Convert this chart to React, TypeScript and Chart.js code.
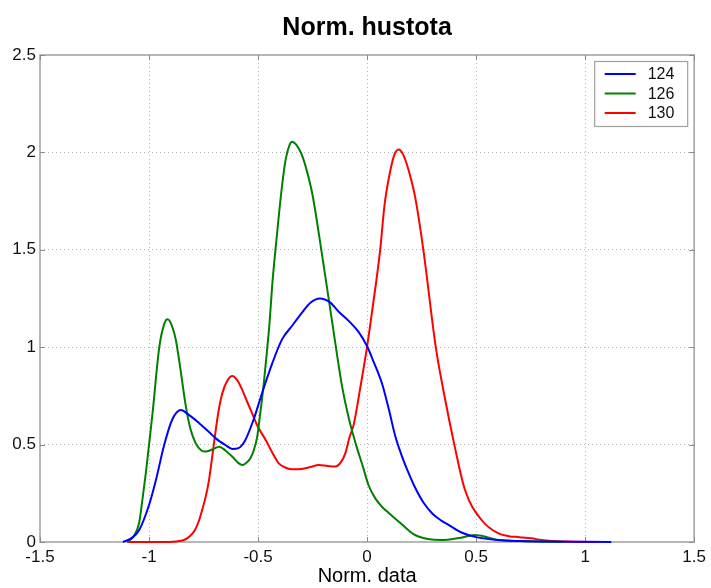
import React, { useEffect, useRef } from 'react';
import { Chart, registerables } from 'chart.js';

Chart.register(...registerables);

const titleText = 'Norm. hustota';
const xAxisLabel = 'Norm. data';
const seriesNames = ['124', '126', '130'];
const seriesColors = ['#0000ff', '#008000', '#ff0000'];

const xTicks = [-1.5, -1, -0.5, 0, 0.5, 1, 1.5];
const yTicks = [0, 0.5, 1, 1.5, 2, 2.5];

const x124 = [-1.12, -1.08, -1.045, -1.0, -0.968, -0.93, -0.893, -0.854, -0.82, -0.77, -0.72, -0.694, -0.65, -0.618, -0.59, -0.56, -0.52, -0.48, -0.435, -0.39, -0.344, -0.3, -0.26, -0.217, -0.17, -0.13, -0.08, -0.04, 0, 0.03, 0.068, 0.1, 0.13, 0.16, 0.19, 0.22, 0.26, 0.3, 0.34, 0.373, 0.43, 0.5, 0.6, 0.7, 0.85, 1.0, 1.12];
const y124 = [0, 0.02, 0.062, 0.19, 0.32, 0.5, 0.63, 0.678, 0.655, 0.61, 0.56, 0.532, 0.498, 0.478, 0.482, 0.52, 0.63, 0.77, 0.917, 1.04, 1.11, 1.175, 1.228, 1.25, 1.23, 1.182, 1.13, 1.08, 1.005, 0.925, 0.815, 0.68, 0.54, 0.44, 0.355, 0.28, 0.2, 0.145, 0.11, 0.088, 0.05, 0.025, 0.01, 0.005, 0.002, 0.001, 0];

const x126 = [-1.1, -1.07, -1.045, -1.03, -1.014, -1.0, -0.984, -0.953, -0.93, -0.915, -0.895, -0.877, -0.855, -0.831, -0.81, -0.786, -0.76, -0.74, -0.71, -0.679, -0.65, -0.618, -0.59, -0.572, -0.55, -0.535, -0.52, -0.504, -0.49, -0.475, -0.46, -0.447, -0.435, -0.414, -0.394, -0.374, -0.355, -0.344, -0.325, -0.3, -0.275, -0.25, -0.21, -0.175, -0.143, -0.115, -0.085, -0.051, -0.02, 0.007, 0.04, 0.068, 0.098, 0.15, 0.19, 0.22, 0.28, 0.34, 0.42, 0.495, 0.55, 0.6, 0.7, 0.9];
const y126 = [0, 0.03, 0.1, 0.22, 0.36, 0.5, 0.66, 1.0, 1.12, 1.143, 1.11, 1.037, 0.88, 0.695, 0.58, 0.507, 0.47, 0.464, 0.475, 0.489, 0.47, 0.438, 0.405, 0.395, 0.41, 0.43, 0.47, 0.54, 0.66, 0.8, 0.97, 1.13, 1.32, 1.57, 1.79, 1.96, 2.04, 2.055, 2.04, 1.99, 1.9, 1.78, 1.5, 1.24, 1.0, 0.8, 0.64, 0.5, 0.39, 0.29, 0.22, 0.181, 0.15, 0.1, 0.06, 0.036, 0.015, 0.01, 0.02, 0.036, 0.025, 0.01, 0.005, 0];

const x130 = [-1.1, -0.95, -0.877, -0.84, -0.816, -0.79, -0.77, -0.755, -0.74, -0.725, -0.71, -0.694, -0.68, -0.664, -0.64, -0.618, -0.595, -0.572, -0.55, -0.527, -0.5, -0.465, -0.435, -0.405, -0.37, -0.344, -0.3, -0.26, -0.222, -0.18, -0.145, -0.12, -0.1, -0.08, -0.062, -0.03, 0, 0.025, 0.06, 0.08, 0.1, 0.124, 0.144, 0.165, 0.19, 0.22, 0.258, 0.315, 0.36, 0.4, 0.449, 0.525, 0.6, 0.65, 0.7, 0.754, 0.8, 0.906, 1.05];
const y130 = [0, 0, 0.003, 0.01, 0.027, 0.06, 0.113, 0.17, 0.233, 0.318, 0.44, 0.575, 0.68, 0.763, 0.83, 0.852, 0.83, 0.78, 0.72, 0.66, 0.59, 0.524, 0.46, 0.404, 0.38, 0.373, 0.375, 0.385, 0.395, 0.39, 0.387, 0.41, 0.455, 0.54, 0.6, 0.8, 1.003, 1.2, 1.5, 1.73, 1.87, 1.985, 2.015, 1.99, 1.91, 1.773, 1.5, 1.0, 0.72, 0.5, 0.267, 0.113, 0.045, 0.03, 0.025, 0.019, 0.01, 0.002, 0];

const xs = [x124, x126, x130];
const ys = [y124, y126, y130];

const FONT = "'Liberation Sans', Arial, Helvetica, sans-serif";

const frameLegendPlugin = {
  id: 'frameLegend',
  beforeDatasetsDraw(chart: any) {
    const { ctx, chartArea } = chart;
    const { left, right, top, bottom } = chartArea;
    ctx.save();
    ctx.strokeStyle = '#a0a0a0';
    ctx.lineWidth = 1.5;
    ctx.strokeRect(left, top, right - left, bottom - top);
    ctx.strokeStyle = '#8a8a8a';
    ctx.lineWidth = 1;
    const sx = chart.scales.x;
    const sy = chart.scales.y;
    const tl = 5;
    xTicks.forEach((v) => {
      const px = Math.round(sx.getPixelForValue(v)) + 0.5;
      ctx.beginPath();
      ctx.moveTo(px, bottom);
      ctx.lineTo(px, bottom - tl);
      ctx.moveTo(px, top);
      ctx.lineTo(px, top + tl);
      ctx.stroke();
    });
    yTicks.forEach((v) => {
      const py = Math.round(sy.getPixelForValue(v)) + 0.5;
      ctx.beginPath();
      ctx.moveTo(left, py);
      ctx.lineTo(left + tl, py);
      ctx.moveTo(right, py);
      ctx.lineTo(right - tl, py);
      ctx.stroke();
    });
    ctx.restore();
  },
  afterDraw(chart: any) {
    const { ctx, chartArea } = chart;
    const bx = chartArea.right - 99.5;
    const by = chartArea.top + 6.5;
    const bw = 93;
    const bh = 65;
    ctx.save();
    ctx.fillStyle = '#ffffff';
    ctx.fillRect(bx, by, bw, bh);
    ctx.strokeStyle = '#a0a0a0';
    ctx.lineWidth = 1.2;
    ctx.strokeRect(bx, by, bw, bh);
    ctx.font = `16px ${FONT}`;
    ctx.textBaseline = 'middle';
    ctx.textAlign = 'left';
    seriesNames.forEach((name, i) => {
      const ry = by + 12.5 + i * 19.5;
      ctx.strokeStyle = seriesColors[i];
      ctx.lineWidth = 2;
      ctx.beginPath();
      ctx.moveTo(bx + 10, ry);
      ctx.lineTo(bx + 41, ry);
      ctx.stroke();
      ctx.fillStyle = '#111111';
      ctx.fillText(name, bx + 53, ry + 1);
    });
    ctx.restore();
  },
};

const fmt = (v: any) => String(Number(v));

export default function App() {
  const canvasRef = useRef<HTMLCanvasElement | null>(null);

  useEffect(() => {
    document.body.style.margin = '0';
    const canvas = canvasRef.current;
    if (!canvas) return;
    const datasets = seriesNames.map((name, i) => ({
      label: name,
      data: xs[i].map((x, j) => ({ x, y: ys[i][j] })),
      borderColor: seriesColors[i],
      backgroundColor: seriesColors[i],
      borderWidth: 2,
      pointRadius: 0,
      fill: false,
      cubicInterpolationMode: 'monotone' as const,
      clip: 6,
    }));
    const chart = new Chart(canvas, {
      type: 'line',
      data: { datasets },
      plugins: [frameLegendPlugin],
      options: {
        animation: false,
        responsive: false,
        maintainAspectRatio: false,
        layout: { padding: { left: 0, right: 14, top: 0, bottom: 0 } },
        plugins: {
          legend: { display: false },
          tooltip: { enabled: false },
          title: {
            display: true,
            fullSize: false,
            text: titleText,
            color: '#000000',
            font: { family: FONT, size: 25, weight: 'bold' },
            padding: { top: 13, bottom: 12 },
          },
        },
        scales: {
          x: {
            type: 'linear',
            min: -1.5,
            max: 1.5,
            afterFit: (s: any) => { s.height = 46; },
            afterBuildTicks: (s: any) => { s.ticks = xTicks.map((v) => ({ value: v })); },
            ticks: {
              callback: fmt,
              color: '#111111',
              font: { family: FONT, size: 17 },
              padding: 5,
              maxRotation: 0,
              autoSkip: false,
            },
            grid: {
              drawTicks: false,
              color: (c: any) => (c.tick && (c.tick.value === -1.5 || c.tick.value === 1.5) ? 'rgba(0,0,0,0)' : '#b5b5b5'),
              lineWidth: 1,
            },
            border: { display: false, dash: [1, 3] },
            title: {
              display: true,
              text: xAxisLabel,
              color: '#000000',
              font: { family: FONT, size: 20 },
              padding: { top: 0, bottom: 0 },
            },
          },
          y: {
            type: 'linear',
            min: 0,
            max: 2.5,
            afterFit: (s: any) => { s.width = 40; },
            afterBuildTicks: (s: any) => { s.ticks = yTicks.map((v) => ({ value: v })); },
            ticks: {
              callback: fmt,
              color: '#111111',
              font: { family: FONT, size: 17 },
              padding: 4,
              autoSkip: false,
            },
            grid: {
              drawTicks: false,
              color: (c: any) => (c.tick && (c.tick.value === 0 || c.tick.value === 2.5) ? 'rgba(0,0,0,0)' : '#b5b5b5'),
              lineWidth: 1,
            },
            border: { display: false, dash: [1, 3] },
          },
        },
      },
    });
    return () => chart.destroy();
  }, []);

  return (
    <div style={{ width: 711, height: 588, background: '#ffffff' }}>
      <canvas ref={canvasRef} width={711} height={588} style={{ display: 'block' }} />
    </div>
  );
}
